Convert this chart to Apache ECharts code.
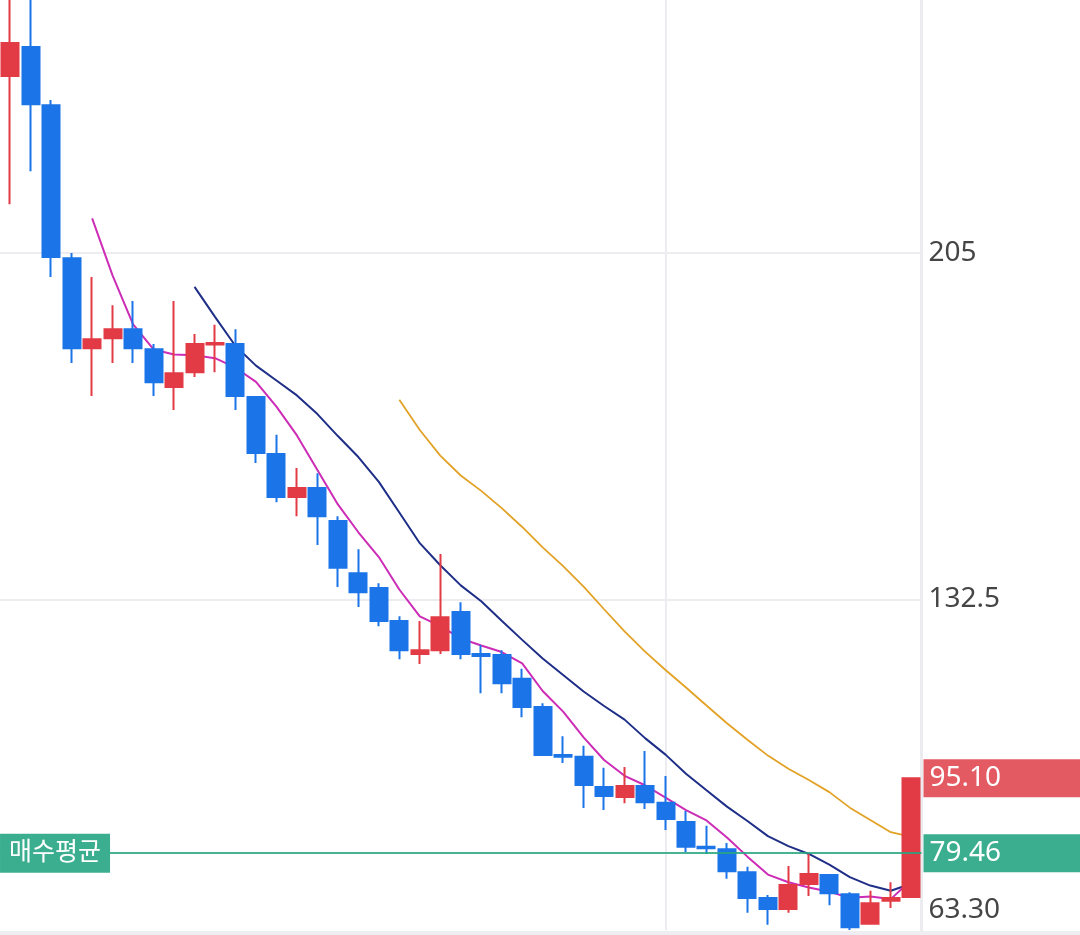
<!DOCTYPE html>
<html><head><meta charset="utf-8">
<script src="https://cdn.jsdelivr.net/npm/echarts@6/dist/echarts.min.js"></script>
<style>html,body{margin:0;padding:0;background:#fff;overflow:hidden}#c{width:1080px;height:935px}</style>
</head><body><div id="c"></div>
<script>
const categories = ['1','2','3','4','5','6','7','8','9','10','11','12','13','14','15','16','17','18','19','20','21','22','23','24','25','26','27','28','29','30','31','32','33','34','35','36','37','38','39','40','41','42','43','44','45'];
const opens  = [241.9,248.0,235.8,203.8,185.0,187.1,189.0,184.8,176.9,180.0,185.8,185.9,174.8,162.9,153.9,155.8,148.9,138.0,134.9,128.0,121.1,121.9,129.9,121.1,120.9,115.9,110.0,100.0,99.6,93.3,91.2,93.5,90.0,86.0,80.8,80.3,75.5,70.1,67.8,73.0,74.9,70.9,64.7,69.5,70.3];
const closes = [248.8,236.0,204.1,185.0,186.9,189.0,185.0,177.9,179.8,185.9,186.1,175.0,163.1,153.9,155.8,149.9,139.1,134.0,128.0,121.9,121.9,128.8,121.1,120.7,115.0,110.0,100.0,99.6,93.7,91.4,93.5,90.1,86.6,80.8,80.5,75.7,70.1,67.8,72.8,75.1,71.1,64.0,69.0,70.1,95.1];
const lows   = [215.1,222.0,199.9,181.9,175.0,181.9,181.9,175.0,172.1,179.0,180.0,172.1,161.0,152.8,149.9,143.9,135.1,130.9,126.9,120.0,119.0,121.1,120.0,112.9,112.9,107.9,100.0,98.3,88.9,88.5,89.9,88.7,84.3,79.7,79.3,74.1,67.0,64.5,67.0,70.5,68.6,63.4,64.7,68.0,70.3];
const highs  = [262.0,262.0,236.9,204.9,199.9,194.0,194.9,185.9,194.9,188.0,189.9,189.0,174.8,166.9,160.0,158.9,149.9,143.0,135.9,129.0,128.0,142.0,131.9,123.0,121.9,118.0,110.8,103.9,101.9,97.3,97.5,100.8,95.6,88.3,85.2,81.6,76.6,70.7,76.8,79.3,74.9,71.3,71.6,73.4,95.1];
const ma5  = ['-','-','-','-',212.16,200.20,190.00,184.76,183.72,183.52,182.94,180.94,177.98,172.80,166.78,159.54,152.36,146.54,141.36,134.58,128.98,126.92,124.34,122.88,121.50,119.12,113.36,109.06,103.66,98.94,95.64,93.66,91.06,88.48,86.30,82.74,78.74,74.98,73.38,72.30,71.38,70.16,70.40,69.86,73.86];
const ma10 = ['-','-','-','-','-','-','-','-','-',197.84,191.57,185.47,181.37,178.26,175.15,171.24,166.65,162.26,157.08,150.68,144.26,139.64,135.44,132.12,128.04,124.05,120.14,116.70,113.27,110.22,107.38,103.51,100.06,96.07,92.62,89.19,86.20,83.02,80.93,79.30,77.06,74.45,72.69,71.62,73.08];
const ma20 = ['-','-','-','-','-','-','-','-','-','-','-','-','-','-','-','-','-','-','-',174.26,167.92,162.56,158.41,155.19,151.60,147.65,143.40,139.48,135.18,130.45,125.82,121.58,117.75,114.10,110.33,106.62,103.17,99.86,97.10,94.76,92.22,88.98,86.38,83.85,82.85];
const yTickValues = [63.3, 132.5, 205];
const yTickLabels = ['63.30', '132.5', '205'];
const gridValues = [132.5, 205];
const dividerCategory = '33';
const buyAvg = 79.46;
const buyLabel = '매수평균';
const lastPrice = closes[closes.length - 1];

const candleData = categories.map((c, i) => [opens[i], closes[i], lows[i], highs[i]]);
const FONT = "'Noto Sans', 'Noto Sans CJK KR', sans-serif";
const UP = '#e23b45', DOWN = '#1b74e8';

const chart = echarts.init(document.getElementById('c'), null, {renderer: 'canvas'});
chart.setOption({
  animation: false,
  backgroundColor: '#ffffff',
  grid: {left: 0, right: 158.5, top: 0, bottom: 4.5},
  xAxis: {
    type: 'category', data: categories, boundaryGap: true,
    axisLine: {show: false}, axisTick: {show: false}, axisLabel: {show: false}, splitLine: {show: false}
  },
  yAxis: {
    type: 'value', position: 'right', min: 63.3, max: 257.8, scale: true,
    axisLine: {show: true, lineStyle: {color: '#ebebf0', width: 3}},
    axisTick: {show: false, customValues: yTickValues},
    splitLine: {show: false},
    axisLabel: {
      show: true, customValues: yTickValues, margin: 7, color: '#454545', fontSize: 28, fontFamily: FONT,
      formatter: function (v) {
        const i = yTickValues.indexOf(v);
        const t = i >= 0 ? yTickLabels[i] : String(v);
        return v === yTickValues[0] ? '{low|' + t + '}' : t;
      },
      rich: {low: {fontSize: 28, fontFamily: FONT, color: '#454545', padding: [0, 0, 40, 0]}}
    }
  },
  graphic: [{type: 'rect', left: 0, bottom: 0, z: 0, shape: {width: 1080, height: 4}, style: {fill: '#eeeef2'}}],
  series: [
    {
      name: 'MA20', type: 'line', data: ma20, z: 2, symbol: 'none', smooth: false,
      lineStyle: {color: '#e2a226', width: 1.8},
      markLine: {
        silent: true, symbol: 'none', z: 1, animation: false,
        label: {show: false},
        lineStyle: {color: '#ececf1', width: 2, type: 'solid'},
        data: gridValues.map(v => ({yAxis: v})).concat([{xAxis: dividerCategory}])
      }
    },
    {name: 'MA10', type: 'line', data: ma10, z: 2, symbol: 'none', lineStyle: {color: '#1f2f88', width: 2}},
    {name: 'MA5', type: 'line', data: ma5, z: 2, symbol: 'none', lineStyle: {color: '#cc2cb6', width: 2}},
    {
      name: 'price', type: 'candlestick', data: candleData, z: 3, barWidth: 17.5,
      itemStyle: {color: UP, color0: DOWN, borderColor: UP, borderColor0: DOWN, borderWidth: 2},
      markLine: {
        silent: true, symbol: 'none', z: 6, animation: false,
        data: [
          {
            yAxis: buyAvg,
            lineStyle: {color: 'rgba(40,166,128,0.85)', width: 2, type: 'solid'},
            label: {
              show: true, position: 'end', distance: 2, formatter: buyAvg.toFixed(2),
              backgroundColor: '#3aae8e', color: '#ffffff', fontSize: 28, fontFamily: FONT,
              lineHeight: 28, width: 143, padding: [5, 8, 5, 6], align: 'left'
            }
          },
          {
            yAxis: lastPrice,
            lineStyle: {color: 'rgba(0,0,0,0)', width: 1, type: 'solid'},
            label: {
              show: true, position: 'end', distance: 2, formatter: lastPrice.toFixed(2),
              backgroundColor: '#e35a63', color: '#ffffff', fontSize: 28, fontFamily: FONT,
              lineHeight: 28, width: 143, padding: [5, 8, 5, 6], align: 'left'
            }
          }
        ]
      },
      markPoint: {
        silent: true, z: 7, animation: false,
        data: [{
          coord: [categories[0], buyAvg], symbol: 'rect', symbolSize: [110, 39], symbolOffset: [44.8, 0],
          itemStyle: {color: '#3aae8e'},
          label: {show: true, position: 'inside', formatter: buyLabel, color: '#ffffff', fontSize: 25, fontFamily: FONT}
        }]
      }
    }
  ]
});
</script>
</body></html>
